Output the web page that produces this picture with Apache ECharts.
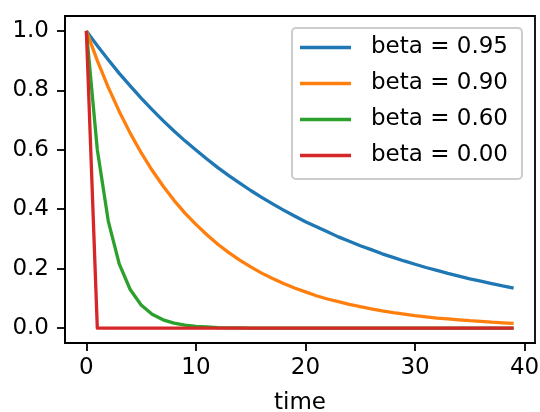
<!DOCTYPE html>
<html>
<head>
<meta charset="utf-8">
<script src="https://cdn.jsdelivr.net/npm/echarts@6/dist/echarts.min.js"></script>
<style>html,body{margin:0;padding:0;background:#fff}#c{width:540px;height:412px}</style>
</head>
<body>
<div id="c"></div>
<script>
var time = [0,1,2,3,4,5,6,7,8,9,10,11,12,13,14,15,16,17,18,19,20,21,22,23,24,25,26,27,28,29,30,31,32,33,34,35,36,37,38,39];
var seriesNames = ['beta = 0.95','beta = 0.90','beta = 0.60','beta = 0.00'];
var beta095 = [1,0.95,0.9025,0.857,0.815,0.774,0.735,0.698,0.663,0.630,0.599,0.569,0.540,0.513,0.488,0.463,0.440,0.418,0.397,0.377,0.358,0.341,0.324,0.307,0.292,0.277,0.264,0.250,0.238,0.226,0.215,0.204,0.194,0.184,0.175,0.166,0.158,0.150,0.142,0.135];
var beta090 = [1,0.9,0.81,0.729,0.656,0.590,0.531,0.478,0.430,0.387,0.349,0.314,0.282,0.254,0.229,0.206,0.185,0.167,0.150,0.135,0.122,0.109,0.098,0.089,0.080,0.072,0.065,0.058,0.052,0.047,0.042,0.038,0.034,0.031,0.028,0.025,0.023,0.020,0.018,0.016];
var beta060 = [1,0.6,0.36,0.216,0.130,0.078,0.047,0.028,0.017,0.010,0.006,0.004,0.002,0.001,0.001,0,0,0,0,0,0,0,0,0,0,0,0,0,0,0,0,0,0,0,0,0,0,0,0,0];
var beta000 = [1,0,0,0,0,0,0,0,0,0,0,0,0,0,0,0,0,0,0,0,0,0,0,0,0,0,0,0,0,0,0,0,0,0,0,0,0,0,0,0];
var xTicks = [0,10,20,30,40];
var yTicks = [0,0.2,0.4,0.6,0.8,1.0];
var colors = ['#1f77b4','#ff7f0e','#2ca02c','#d62728'];
var allValues = [beta095, beta090, beta060, beta000];

var font = 'DejaVu Sans';
var fs = 23;
var chart = echarts.init(document.getElementById('c'), null, {renderer:'canvas'});
var series = allValues.map(function(vals, i){
  return {
    name: seriesNames[i], type:'line', symbol:'none', showSymbol:false,
    data: time.map(function(t, j){ return [t, vals[j]]; }),
    lineStyle:{color:colors[i], width:3.3, cap:'butt', join:'round'},
    itemStyle:{color:colors[i]},
    animation:false, z: 2+i
  };
});
chart.setOption({
  backgroundColor:'#fff',
  animation:false,
  grid:{left:65, right:5, top:16, bottom:69, outerBoundsMode:'none', containLabel:false,
    show:true, borderColor:'#000', borderWidth:1.8, backgroundColor:'transparent'},
  legend:{
    orient:'vertical', left:292, top:28,
    padding:[8,14,12,8], itemGap:13, itemWidth:51, itemHeight:3.3,
    icon:'rect',
    backgroundColor:'rgba(255,255,255,0.8)', borderColor:'#cccccc', borderWidth:2, borderRadius:4,
    textStyle:{fontFamily:font, fontSize:fs, color:'#000', lineHeight:23, padding:[0,0,0,15]},
    data: seriesNames
  },
  xAxis:{
    type:'value', min:-1.95, max:40.95,
    name:'time', nameLocation:'middle', nameGap:49,
    nameTextStyle:{fontFamily:font, fontSize:fs, color:'#000'},
    axisLine:{show:true, onZero:false, lineStyle:{color:'#000', width:1.8}},
    axisTick:{show:true, length:8, lineStyle:{color:'#000', width:1.8}, customValues:xTicks},
    axisLabel:{fontFamily:font, fontSize:fs, color:'#000', margin:14, customValues:xTicks,
      formatter:function(v){return String(v);}},
    splitLine:{show:false}
  },
  yAxis:{
    type:'value', min:-0.05, max:1.05,
    axisLine:{show:true, onZero:false, lineStyle:{color:'#000', width:1.8}},
    axisTick:{show:true, length:8, lineStyle:{color:'#000', width:1.8}, customValues:yTicks},
    axisLabel:{fontFamily:font, fontSize:fs, color:'#000', margin:16, customValues:yTicks,
      formatter:function(v){return v.toFixed(1);}},
    splitLine:{show:false}
  },
  series: series
});
</script>
</body>
</html>
